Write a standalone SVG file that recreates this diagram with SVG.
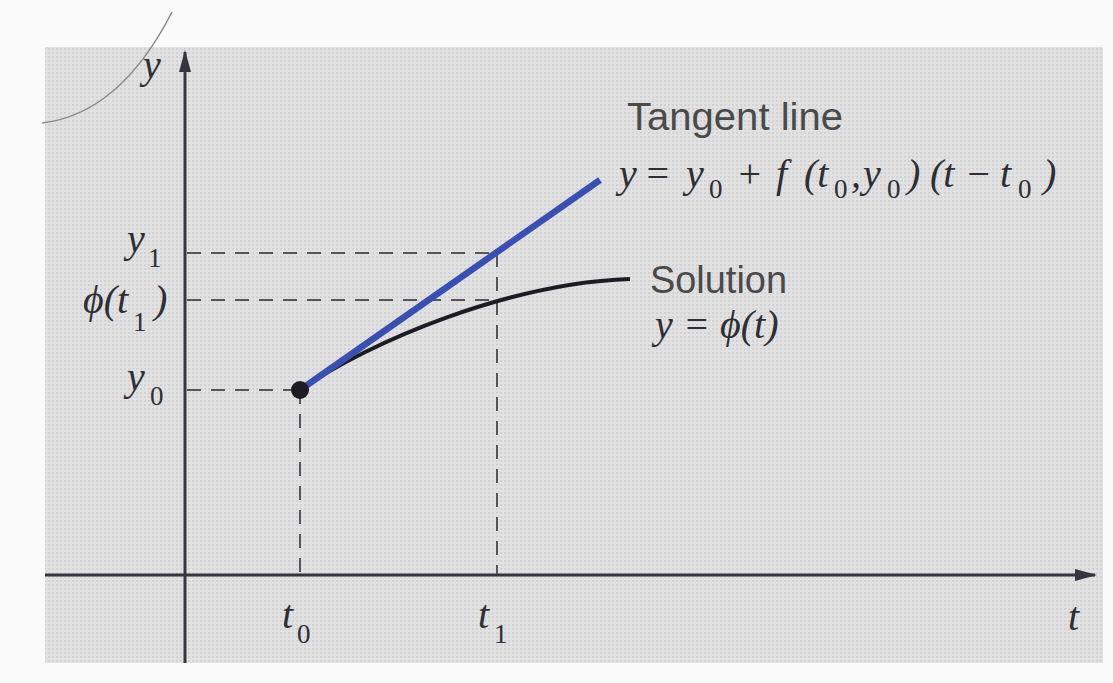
<svg xmlns="http://www.w3.org/2000/svg" width="1113" height="683" viewBox="0 0 1113 683">
<style>
.m{font-family:"Liberation Serif","DejaVu Serif",serif;font-style:italic;fill:#2e2e33;font-size:40px}
.s{font-family:"Liberation Serif","DejaVu Serif",serif;font-style:normal;fill:#2e2e33;font-size:27px}
.sans{font-family:"Liberation Sans","Noto Sans",sans-serif;fill:#4a4a4a;font-size:38px}
.dash{stroke:#55555c;stroke-width:2;stroke-dasharray:14 10;fill:none}
.axis{stroke:#35353d;stroke-width:3;fill:none}
</style>
<defs>
<pattern id="dots" width="4" height="4" patternUnits="userSpaceOnUse">
<rect width="4" height="4" fill="#e1e1e2"/>
<rect x="0" y="0" width="2" height="2" fill="#d2d2d5"/>
</pattern>
<marker id="arrB" viewBox="0 0 22 16" refX="20" refY="8" markerWidth="22" markerHeight="16" orient="auto" markerUnits="userSpaceOnUse">
<path d="M0 2 L22 8 L0 14 Z" fill="#35353d"/>
</marker>
</defs>
<rect width="1113" height="683" fill="#fafafa"/>
<rect x="45" y="47" width="1058" height="616" fill="url(#dots)"/>
<path d="M172 12 C150 55 110 115 42 123" stroke="#8a8a8a" stroke-width="1.5" fill="none"/>

<g id="connectors">
<line class="axis" x1="185" y1="663" x2="185" y2="52" marker-end="url(#arrB)"/>
<line class="axis" x1="45" y1="575" x2="1095" y2="575" marker-end="url(#arrB)"/>
<line class="dash" x1="187" y1="253" x2="497" y2="253"/>
<line class="dash" x1="187" y1="300" x2="497" y2="300"/>
<line class="dash" x1="187" y1="390" x2="299" y2="390"/>
<line class="dash" x1="497" y1="253" x2="497" y2="574"/>
<line class="dash" x1="300" y1="390" x2="300" y2="574"/>
</g>

<g id="solution">
<path d="M300 390 C370 341 510 283 630 279" stroke="#1c1c22" stroke-width="4" fill="none"/>
</g>
<g id="tangent">
<line x1="300" y1="390" x2="600" y2="180" stroke="#3b4fb3" stroke-width="6.5"/>
</g>
<g id="point">
<circle cx="300" cy="390" r="9" fill="#1c1c22"/>
</g>

<g id="y-label"><text class="m" x="143" y="78">y</text></g>
<g id="t-label"><text class="m" x="1068" y="630">t</text></g>
<g id="t0-label"><text class="m" x="282" y="628">t</text><text class="s" x="297" y="643">0</text></g>
<g id="t1-label"><text class="m" x="478" y="628">t</text><text class="s" x="494" y="643">1</text></g>
<g id="y1-label"><text class="m" x="127" y="252">y</text><text class="s" x="148" y="267">1</text></g>
<g id="phi-label"><text class="m" x="83" y="313">ϕ(t</text><text class="s" x="133" y="331">1</text><text class="m" x="154" y="313">)</text></g>
<g id="y0-label"><text class="m" x="127" y="390">y</text><text class="s" x="150" y="405">0</text></g>

<g id="tangent-label">
<text class="sans" x="627" y="130" textLength="216" lengthAdjust="spacingAndGlyphs">Tangent line</text>
<text class="m" y="187"><tspan x="619">y</tspan><tspan x="644">=</tspan><tspan x="686">y</tspan><tspan x="736">+</tspan><tspan x="776">f</tspan><tspan x="804">(t</tspan><tspan x="851">,</tspan><tspan x="863">y</tspan><tspan x="907">)</tspan><tspan x="930">(t</tspan><tspan x="965">−</tspan><tspan x="1000">t</tspan><tspan x="1043">)</tspan></text>
<text class="s" y="198"><tspan x="709">0</tspan><tspan x="834">0</tspan><tspan x="887">0</tspan><tspan x="1018">0</tspan></text>
</g>

<g id="solution-label">
<text class="sans" x="650" y="293" textLength="137" lengthAdjust="spacingAndGlyphs">Solution</text>
<text class="m" y="338"><tspan x="655">y</tspan><tspan x="683">=</tspan><tspan x="720">ϕ(t)</tspan></text>
</g>
</svg>
